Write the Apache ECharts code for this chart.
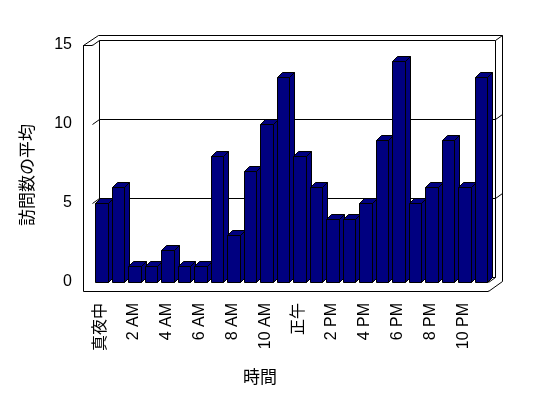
<!DOCTYPE html>
<html>
<head>
<meta charset="utf-8">
<script src="https://cdn.jsdelivr.net/npm/echarts@6/dist/echarts.min.js"></script>
<style>
html,body{margin:0;padding:0;background:#fff;}
#chart{width:548px;height:398px;}
</style>
</head>
<body>
<div id="chart"></div>
<script>
// ---- data ----
const categories = ['真夜中','1 AM','2 AM','3 AM','4 AM','5 AM','6 AM','7 AM','8 AM','9 AM','10 AM','11 AM',
                    '正午','1 PM','2 PM','3 PM','4 PM','5 PM','6 PM','7 PM','8 PM','9 PM','10 PM','11 PM'];
const visits = [5,6,1,1,2,1,1,8,3,7,10,13,8,6,4,4,5,9,14,5,6,9,6,13];
const yTicks = [0,5,10,15];
const gridValues = [5,10];
const xAxisName = '時間';
const yAxisName = '訪問数の平均';

// ---- styling constants ----
const FONT = "'Liberation Sans','Noto Sans CJK JP',sans-serif";
const WALL_DX = 7.3, WALL_DY = -5;
const BAR_DX = 5, BAR_DY = -5;
const FLOOR_H = 9;
const LEFT_WALL_W = 8.5;
const BAR_L = 0.19, BAR_R = 0.95;
const BAR_COLOR = '#000080';

function crisp(v){ return Math.round(v - 0.5) + 0.5; }

function renderFrame(params, api){
  const cs = params.coordSys;
  const L = cs.x, R = cs.x + cs.width, T = cs.y, B = cs.y + cs.height;
  const dx = WALL_DX, dy = WALL_DY;
  const kids = [];
  function ln(x1,y1,x2,y2){
    kids.push({type:'line', shape:{x1:crisp(x1),y1:crisp(y1),x2:crisp(x2),y2:crisp(y2)},
               style:{stroke:'#000', lineWidth:1}});
  }
  const WL = L - LEFT_WALL_W;
  // white back wall fill
  kids.push({type:'polygon', shape:{points:[[L,T],[L+dx,T+dy],[R+dx,T+dy],[R+2*dx,T+2*dy],[R+2*dx,B+FLOOR_H+2*dy],[R,B+FLOOR_H],[WL,B+FLOOR_H],[WL,T]]},
             style:{fill:'#fff'}});
  ln(WL,T,WL,B+FLOOR_H);
  ln(WL,T,L,T);
  ln(WL,B+FLOOR_H,R,B+FLOOR_H);
  ln(WL,T,WL+2*dx,T+2*dy);
  ln(WL+2*dx,T+2*dy,R+2*dx,T+2*dy);
  ln(L,T,L+dx,T+dy);
  ln(L+dx,T+dy,R+dx,T+dy);
  ln(L+dx,T+dy,L+dx,B+dy);
  ln(R+dx,T+dy,R+dx,B+dy);
  ln(L+dx,B+dy,R+dx,B+dy);
  ln(R+dx,T+dy,R+2*dx,T+2*dy);
  ln(R+2*dx,T+2*dy,R+2*dx,B+FLOOR_H+2*dy);
  ln(R,B+FLOOR_H,R+2*dx,B+FLOOR_H+2*dy);
  ln(R,B,R+dx,B+dy);
  gridValues.forEach(v => {
    const y = api.coord([0, v])[1];
    ln(L,y,L+dx,y+dy);
    ln(L+dx,y+dy,R+dx,y+dy);
    ln(R+dx,y+dy,R+2*dx,y+2*dy);
  });
  return {type:'group', children:kids};
}

function renderBar(params, api){
  const idx = api.value(0), val = api.value(1);
  const c = api.coord([idx, val]);
  const b = api.coord([idx, 0]);
  const bw = api.size([1, 0])[0];
  const x0 = Math.round(c[0] - bw/2 + bw*BAR_L) + 0.5;
  const x1 = Math.round(c[0] - bw/2 + bw*BAR_R) + 0.5;
  const top = Math.round(c[1]) + 0.5, bot = Math.round(b[1]) + 0.5;
  const st = {fill:BAR_COLOR, stroke:'#000', lineWidth:1};
  return {type:'group', children:[
    {type:'polygon', shape:{points:[[x1,top],[x1+BAR_DX,top+BAR_DY],[x1+BAR_DX,bot+BAR_DY],[x1,bot]]}, style:st},
    {type:'polygon', shape:{points:[[x0,top],[x0+BAR_DX,top+BAR_DY],[x1+BAR_DX,top+BAR_DY],[x1,top]]}, style:st},
    {type:'rect', shape:{x:x0, y:top, width:x1-x0, height:bot-top}, style:st}
  ]};
}

const chart = echarts.init(document.getElementById('chart'), null, {renderer:'canvas'});
chart.setOption({
  animation:false,
  backgroundColor:'#fff',
  grid:{left:92, right:60, top:45, bottom:116, containLabel:false},
  xAxis:{
    type:'category', data:categories, boundaryGap:true,
    name:xAxisName, nameLocation:'middle', nameGap:88,
    nameTextStyle:{color:'#000', fontSize:17, fontFamily:FONT, padding:[0,60,0,0]},
    axisLine:{show:true, lineStyle:{color:'#000', width:1}},
    axisTick:{show:true, interval:0, length:9, inside:false, lineStyle:{color:'#000'}},
    axisLabel:{interval:1, rotate:90, margin:21, color:'#000', fontSize:16, fontFamily:FONT},
    splitLine:{show:false}
  },
  yAxis:{
    type:'value', min:yTicks[0], max:yTicks[yTicks.length-1], interval:5,
    name:yAxisName, nameLocation:'middle', nameGap:55, nameRotate:90,
    nameTextStyle:{color:'#000', fontSize:17, fontFamily:FONT, padding:[0,23,0,0]},
    axisLine:{show:true, lineStyle:{color:'#000', width:1}},
    axisTick:{show:true, length:9, lineStyle:{color:'#000'}},
    axisLabel:{margin:20, color:'#000', fontSize:16, fontFamily:FONT},
    splitLine:{show:false}
  },
  series:[
    {type:'custom', name:'frame', renderItem:renderFrame, data:[[0,0]], z:1, silent:true, clip:false},
    {type:'custom', name:'訪問数の平均', renderItem:renderBar, z:2, clip:false,
     encode:{x:0, y:1}, data:visits.map((v,i)=>[i,v])}
  ]
});
</script>
</body>
</html>
